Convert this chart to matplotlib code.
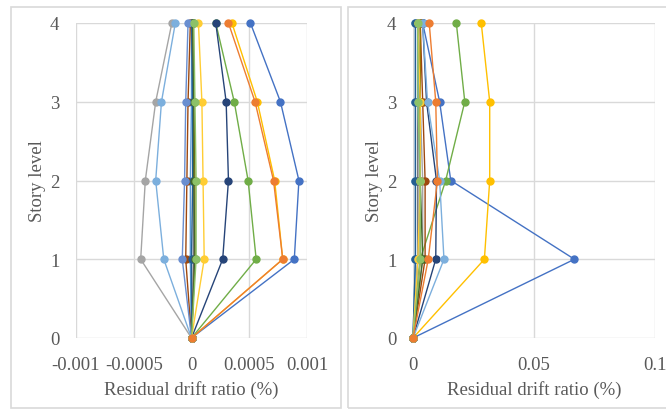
import matplotlib
matplotlib.use("Agg")
import matplotlib.pyplot as plt
from matplotlib.patches import Rectangle

# story levels (level 0 is the base, drift 0)
levels = [0, 1, 2, 3, 4]

# series colours (Excel default palette order)
colors = ['#4472C4', '#A5A5A5', '#FFC000', '#5B9BD5', '#70AD47', '#264478',
          '#9E480E', '#636363', '#997300', '#255E91', '#43682B', '#698ED0',
          '#FFCD33', '#7CAFDD', '#8CC168', '#ED7D31']

# left panel: residual drift ratio (%) at levels 1..4
left_vals = [
    [0.00089, 0.00093, 0.00077, 0.00051],
    [-0.00044, -0.00040, -0.00031, -0.00017],
    [0.00079, 0.00072, 0.00057, 0.00035],
    [-0.00001, -0.00001, 0.0, 0.0],
    [0.00056, 0.00049, 0.00037, 0.00021],
    [0.00027, 0.00032, 0.00030, 0.00021],
    [-0.00005, -0.00004, -0.00003, -0.00001],
    [0.00002, 0.00002, 0.00001, 0.00001],
    [0.00003, 0.00003, 0.00002, 0.00001],
    [0.0, 0.00001, 0.00001, 0.0],
    [0.00003, 0.00002, 0.00002, 0.00001],
    [-0.00008, -0.00006, -0.00005, -0.00003],
    [0.00011, 0.00010, 0.00009, 0.00006],
    [-0.00024, -0.00031, -0.00026, -0.00014],
    [0.00004, 0.00004, 0.00003, 0.00002],
    [0.00079, 0.00071, 0.00055, 0.00032],
]

# right panel: residual drift ratio (%) at levels 1..4
right_vals = [
    [0.0667, 0.0156, 0.0110, 0.0040],
    [0.0040, 0.0040, 0.0030, 0.0030],
    [0.0295, 0.0317, 0.0317, 0.0282],
    [0.0010, 0.0010, 0.0010, 0.0010],
    [0.0030, 0.0135, 0.0214, 0.0179],
    [0.0094, 0.0097, 0.0056, 0.0040],
    [0.0050, 0.0050, 0.0040, 0.0030],
    [0.0020, 0.0020, 0.0020, 0.0020],
    [0.0030, 0.0030, 0.0030, 0.0030],
    [0.0010, 0.0010, 0.0010, 0.0010],
    [0.0040, 0.0030, 0.0030, 0.0020],
    [0.0020, 0.0030, 0.0020, 0.0020],
    [0.0020, 0.0030, 0.0030, 0.0020],
    [0.0128, 0.0110, 0.0060, 0.0040],
    [0.0030, 0.0030, 0.0020, 0.0020],
    [0.0063, 0.0101, 0.0094, 0.0067],
]

left_ticks = [-0.001, -0.0005, 0, 0.0005, 0.001]
left_ticklabels = ['-0.001', '-0.0005', '0', '0.0005', '0.001']
right_ticks = [0, 0.05, 0.1]
right_ticklabels = ['0', '0.05', '0.1']

plt.rcParams['font.family'] = ['Liberation Serif', 'DejaVu Serif']
txt = '#595959'
grid = '#D9D9D9'
fs = 13.5

fig = plt.figure(figsize=(6.66, 4.10), dpi=100)
W, H = 666.0, 410.0

# chart-area borders
for x0, x1 in [(11, 341), (348, 680)]:
    fig.patches.append(Rectangle((x0 / W, 1 - 409 / H), (x1 - x0) / W, (409 - 8) / H,
                                 transform=fig.transFigure, fill=False,
                                 edgecolor='#D9D9D9', lw=1.2))


def panel(rect, data, ticks, ticklabels, xlim):
    ax = fig.add_axes(rect)
    for c, v in zip(colors, data):
        ax.plot([0] + v, levels, '-o', color=c, lw=1.0, ms=5, clip_on=False)
    ax.set_xlim(*xlim)
    ax.set_ylim(0, 4)
    ax.set_xticks(ticks)
    ax.set_xticklabels(ticklabels)
    ax.set_yticks(levels)
    for s in ax.spines.values():
        s.set_visible(False)
    ax.grid(True, color=grid, lw=1.0)
    ax.set_axisbelow(True)
    ax.tick_params(length=0, labelsize=fs, labelcolor=txt)
    ax.tick_params(axis='x', pad=13)
    ax.tick_params(axis='y', pad=12)
    ax.set_xlabel('Residual drift ratio (%)', fontsize=fs, color=txt, labelpad=5)
    ax.set_ylabel('Story level', fontsize=fs, color=txt, labelpad=3)
    return ax


panel([76 / W, 1 - 339 / H, 231 / W, 315 / H], left_vals, left_ticks,
      left_ticklabels, (-0.001, 0.001))
panel([413 / W, 1 - 339 / H, 242 / W, 315 / H], right_vals, right_ticks,
      right_ticklabels, (0, 0.1))

fig.savefig('out.png', dpi=100)
